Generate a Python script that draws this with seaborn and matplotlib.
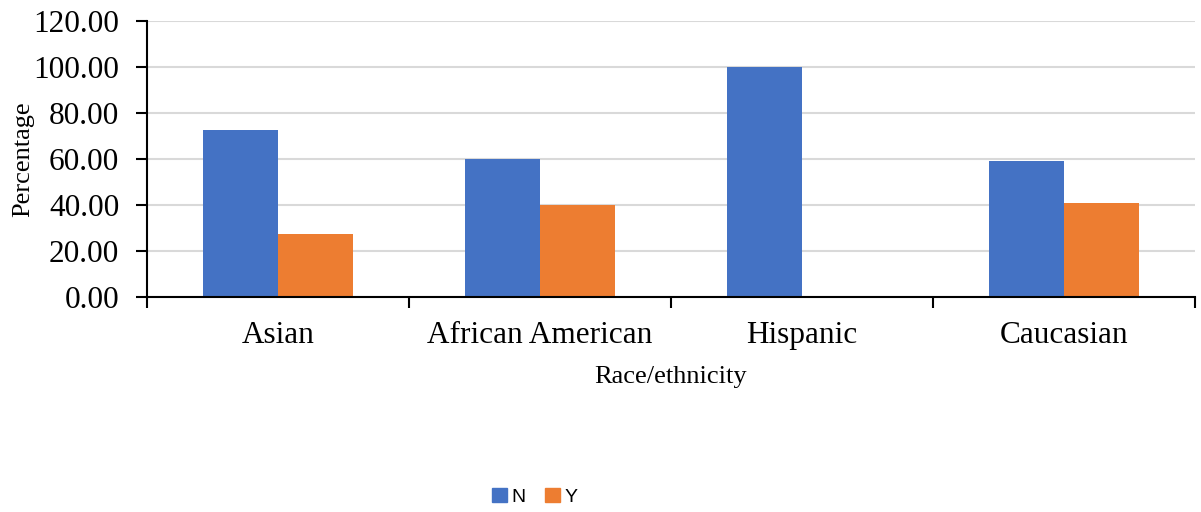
import matplotlib
matplotlib.use("Agg")
import matplotlib.pyplot as plt
import seaborn as sns
import pandas as pd
import numpy as np

categories = ["Asian", "African American", "Hispanic", "Caucasian"]
n_values = [72.73, 60.00, 100.00, 59.26]
y_values = [27.27, 40.00, 0.00, 40.74]
series = ["N", "Y"]
y_ticks = [0, 20, 40, 60, 80, 100, 120]

df = pd.DataFrame({
    "Race/ethnicity": categories * 2,
    "Group": ["N"] * len(categories) + ["Y"] * len(categories),
    "Percentage": n_values + y_values,
})

sns.set_style("white", {"xtick.bottom": True, "ytick.left": True})
plt.rcParams["font.family"] = ["Liberation Serif", "DejaVu Serif"]
plt.rcParams["text.color"] = "black"
plt.rcParams["axes.labelcolor"] = "black"
plt.rcParams["xtick.color"] = "black"
plt.rcParams["ytick.color"] = "black"

fig = plt.figure(figsize=(12.01, 5.12), dpi=100)
ax = fig.add_axes([0.1224, 0.42, 0.8726, 0.539])

palette = {"N": "#4472C4", "Y": "#ED7D31"}
sns.barplot(data=df, x="Race/ethnicity", y="Percentage", hue="Group",
            order=categories, hue_order=series, palette=palette,
            width=0.57, gap=0, saturation=1, linewidth=0, ax=ax, legend=False)

ax.set_ylim(0, 120)
ax.set_xlim(-0.5, len(categories) - 0.5)
ax.set_yticks(y_ticks)
ax.set_yticklabels([f"{v:.2f}" for v in y_ticks], fontsize=22.5)
ax.yaxis.grid(True, color="#D9D9D9", linewidth=1.5)
ax.set_axisbelow(True)

# category labels at centers, tick marks at the boundaries
ax.set_xticks(range(len(categories)))
ax.set_xticklabels(categories, fontsize=22.5)
ax.tick_params(axis="x", which="major", length=0, pad=17)
ax.set_xticks(np.arange(-0.5, len(categories), 1.0), minor=True)
ax.tick_params(axis="x", which="minor", bottom=True, length=8, width=1.5,
               color="black", direction="out")
ax.tick_params(axis="y", left=True, length=8, width=1.5, color="black",
               direction="out", pad=12)

for side in ["top", "right"]:
    ax.spines[side].set_visible(False)
for side in ["left", "bottom"]:
    ax.spines[side].set_color("black")
    ax.spines[side].set_linewidth(1.5)

ax.set_xlabel("Race/ethnicity", fontsize=19, labelpad=12)
ax.set_ylabel("")
fig.text(0.0195, 0.69, "Percentage", rotation=90, ha="center", va="center",
         fontsize=19)

handles = [plt.Rectangle((0, 0), 1, 1, color=palette[s]) for s in series]
fig.legend(handles, series, loc="center", bbox_to_anchor=(0.4455, 0.03), ncol=2,
           frameon=False, handlelength=0.75, handleheight=0.75, handletextpad=0.25,
           columnspacing=1.0, prop={"family": "Liberation Sans", "size": 14})

fig.savefig("out.png", dpi=100)
